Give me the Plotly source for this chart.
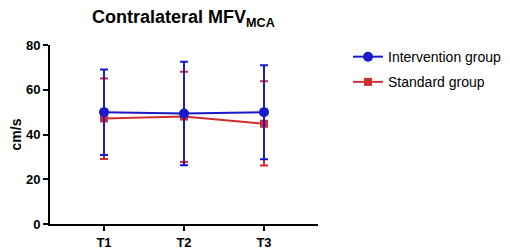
import plotly.graph_objects as go

categories = ["T1", "T2", "T3"]
intervention_mean = [50, 49.4, 50]
intervention_upper = [69, 72.5, 71]
intervention_lower = [30.8, 26.3, 28.9]
standard_mean = [47.2, 48, 44.8]
standard_upper = [65, 68, 63.8]
standard_lower = [29, 27.7, 26.2]

blue = "#1a1ac8"
red = "#d12f2f"

def errs(mean, up, lo):
    return [u - m for u, m in zip(up, mean)], [m - l for m, l in zip(mean, lo)]

s_plus, s_minus = errs(standard_mean, standard_upper, standard_lower)
i_plus, i_minus = errs(intervention_mean, intervention_upper, intervention_lower)

fig = go.Figure()
fig.add_trace(go.Scatter(
    x=categories, y=standard_mean, name="Standard group", mode="lines+markers",
    line=dict(color=red, width=2), marker=dict(symbol="square", size=8, color=red),
    error_y=dict(type="data", array=s_plus, arrayminus=s_minus, color=red, thickness=2, width=4),
    legendrank=2, legendgroup="s",
))
fig.add_trace(go.Scatter(
    x=categories, y=intervention_mean, name="Intervention group", mode="lines+markers",
    line=dict(color=blue, width=2), marker=dict(symbol="circle", size=10, color=blue),
    error_y=dict(type="data", array=i_plus, arrayminus=i_minus, color=blue, thickness=2, width=4),
    legendrank=1, legendgroup="i",
))

fig.update_layout(
    width=510, height=251,
    margin=dict(l=42, r=200, t=37, b=35, autoexpand=False),
    paper_bgcolor="white", plot_bgcolor="white",
    font=dict(family="Arial, Liberation Sans, sans-serif", color="black"),
    title=dict(text="<b>Contralateral MFV<sub>MCA</sub></b>", x=0.344, xanchor="center",
               y=0.99, yanchor="top", pad=dict(t=0), font=dict(size=18)),
    legend=dict(x=1.112, y=1.022, xanchor="left", yanchor="top", font=dict(size=14),
                bgcolor="rgba(0,0,0,0)", traceorder="grouped", tracegroupgap=4),
    showlegend=True,
)
fig.update_xaxes(range=[-0.675, 2.675], showline=True, linecolor="black", linewidth=2,
                 ticks="outside", ticklen=5, tickwidth=2, tickcolor="black",
                 showgrid=False, zeroline=False, automargin=False,
                 tickfont=dict(size=13), tickprefix="<b>", ticksuffix="</b>")
fig.update_yaxes(range=[0, 80], dtick=20, showline=True, linecolor="black", linewidth=2,
                 ticks="outside", ticklen=5, tickwidth=2, tickcolor="black",
                 showgrid=False, zeroline=False, automargin=False,
                 tickfont=dict(size=13), tickprefix="<b>", ticksuffix="</b>",
                 title=dict(text="<b>cm/s</b>", font=dict(size=14), standoff=4))

fig.write_html("out.html")
